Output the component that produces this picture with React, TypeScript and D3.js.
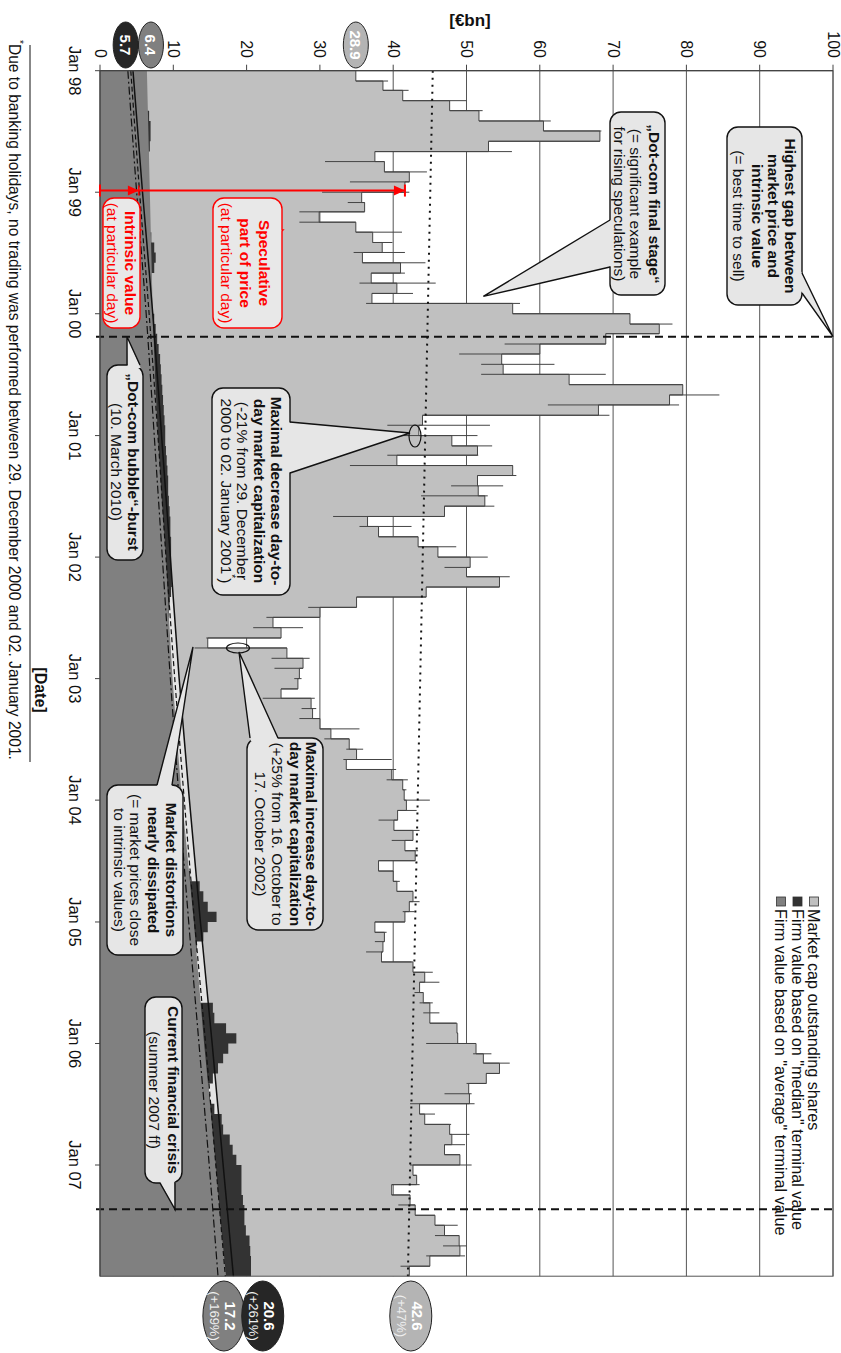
import React from 'react';
import * as d3 from 'd3';

const FONT = '"Liberation Sans", Arial, Helvetica, sans-serif';

// market cap of outstanding shares [€bn], one value per month, Jan 98 .. Nov 07
const capValues = [
  34.9, 38.6, 41.3, 47.7, 51.7, 60.5, 68.2, 53.0, 37.5, 38.8, 42.2, 41.6,
  35.7, 36.1, 29.9, 34.9, 37.2, 38.5, 35.8, 41.0, 37.0, 40.5, 37.1, 56.3,
  72.3, 76.3, 69.0, 60.0, 54.8, 55.0, 64.0, 79.5, 77.7, 68.0, 44.0, 43.5,
  48.0, 51.5, 40.5, 56.3, 51.5, 51.6, 52.5, 47.0, 36.5, 38.0, 43.4, 46.1,
  50.5, 50.0, 54.5, 44.5, 35.0, 30.0, 23.6, 24.7, 14.7, 25.5, 27.7, 27.2,
  27.0, 24.7, 28.8, 29.0, 30.0, 31.5, 34.0, 35.0, 33.6, 39.8, 41.3, 41.5,
  41.8, 40.6, 40.1, 42.7, 41.6, 43.0, 38.0, 40.0, 40.5, 42.7, 42.2, 41.6,
  37.5, 38.8, 38.6, 38.4, 42.7, 44.3, 43.6, 44.1, 45.0, 45.0, 48.7, 48.8,
  51.3, 52.3, 54.5, 52.7, 50.3, 50.4, 43.6, 44.3, 47.7, 48.0, 47.0, 49.1,
  42.7, 43.2, 39.8, 42.3, 43.0, 45.7, 47.0, 49.0, 49.1, 45.0, 42.2,
];

// daily extremes at the start of a month: [month index, low, high]
const capSpikes = [
  [1, 34.9, 39.3], [2, 38.6, 42.1], [3, 41.3, 50.0], [4, 47.7, 52.2], [5, 51.7, 61.5],
  [6, 60.5, 68.4], [7, 53.0, 68.2], [8, 37.5, 56.2], [9, 30.7, 38.8], [10, 38.8, 44.6],
  [11, 34.1, 42.2], [12, 30.3, 42.2], [13, 33.8, 36.1], [14, 27.2, 36.1], [15, 27.2, 34.9],
  [16, 34.9, 41.2], [17, 37.2, 39.9], [18, 34.6, 41.6], [19, 35.8, 44.4], [20, 37.0, 41.6],
  [21, 35.4, 45.8], [22, 37.1, 42.7], [23, 36.3, 57.3], [24, 56.3, 72.3], [25, 72.3, 78.1],
  [26, 69.0, 76.3], [27, 55.2, 69.0], [28, 49.0, 60.0], [29, 52.0, 62.0], [30, 52.0, 69.0],
  [31, 64.0, 79.5], [32, 77.7, 84.5], [33, 61.1, 79.0], [34, 44.0, 69.5], [35, 39.2, 53.2],
  [36, 31.5, 51.5], [37, 48.0, 53.5], [38, 39.2, 51.6], [39, 34.1, 56.3], [40, 51.5, 56.8],
  [41, 47.9, 55.0], [42, 43.8, 52.9], [43, 47.0, 53.8], [44, 31.8, 47.0], [45, 35.4, 42.5],
  [46, 38.0, 43.4], [47, 43.4, 48.6], [48, 46.1, 52.9], [49, 47.0, 50.5], [50, 50.0, 55.9],
  [51, 44.5, 54.5], [52, 35.0, 44.5], [53, 28.4, 35.0], [54, 22.7, 30.0], [55, 20.9, 27.7],
  [56, 14.5, 24.7], [57, 12.9, 25.5], [58, 23.4, 28.6], [59, 23.8, 27.7], [60, 26.5, 27.5],
  [61, 24.7, 27.0], [62, 22.2, 29.3], [63, 27.5, 29.5], [64, 27.2, 30.0], [65, 30.0, 35.4],
  [66, 30.6, 34.0], [67, 33.6, 35.9], [68, 33.2, 39.8], [69, 33.6, 40.4], [70, 39.1, 42.0],
  [71, 41.3, 41.8], [72, 41.5, 45.0], [73, 40.6, 43.2], [74, 38.0, 40.6], [75, 40.1, 43.6],
  [76, 39.8, 42.7], [77, 41.6, 43.4], [78, 38.0, 43.0], [79, 38.0, 40.0], [80, 40.0, 40.9],
  [81, 40.5, 42.7], [82, 42.2, 43.6], [83, 41.3, 42.9], [84, 37.5, 41.6], [85, 37.5, 39.1],
  [86, 37.5, 38.8], [87, 36.3, 38.6], [88, 38.4, 42.5], [89, 42.7, 45.4], [90, 43.6, 46.3],
  [91, 42.9, 44.1], [92, 43.6, 45.4], [93, 44.1, 46.3], [94, 45.0, 48.6], [95, 48.7, 48.8],
  [96, 44.5, 51.3], [97, 50.9, 53.4], [98, 52.3, 55.9], [99, 52.7, 54.5], [100, 50.0, 52.7],
  [101, 47.0, 50.7], [102, 42.3, 51.1], [103, 43.6, 45.7], [104, 44.3, 47.9], [105, 47.7, 50.4],
  [106, 47.0, 49.8], [107, 47.0, 49.1], [108, 42.3, 50.7], [109, 42.7, 43.2], [110, 39.8, 43.6],
  [111, 39.8, 42.3], [112, 40.7, 43.0], [113, 43.0, 45.7], [114, 45.7, 48.8], [115, 45.7, 49.0],
  [116, 46.8, 50.0], [117, 44.5, 49.8], [118, 41.0, 45.0],
];

// firm value, "median" terminal value [€bn], monthly
const medianValues = [
  5.7, 5.9, 6.1, 6.4, 6.7, 6.9, 6.9, 6.8, 6.6, 6.4, 6.3, 6.3,
  6.3, 6.4, 6.5, 6.7, 7.0, 7.4, 7.6, 7.4, 7.0, 6.9, 7.0, 7.1,
  7.4, 7.6, 7.8, 8.0, 8.2, 8.3, 8.4, 8.5, 8.6, 8.7, 8.8, 8.9,
  8.9, 9.0, 9.1, 9.2, 9.3, 9.3, 9.4, 9.5, 9.6, 9.6, 9.7, 9.7,
  9.7, 9.7, 9.8, 9.7, 9.5, 9.4, 9.3, 9.2, 9.2, 9.3, 9.4, 9.5,
  9.6, 9.7, 9.8, 9.9, 10.0, 10.1, 10.2, 10.3, 10.4, 10.6, 10.8, 11.0,
  10.9, 11.0, 11.2, 11.4, 11.6, 11.8, 12.0, 12.3, 13.6, 14.1, 14.7, 15.9,
  14.7, 14.1, 13.2, 12.8, 12.9, 13.0, 13.1, 13.3, 15.4, 15.6, 17.2, 18.6,
  17.5, 16.8, 16.1, 15.4, 14.8, 15.0, 15.6, 16.6, 16.8, 17.7, 18.1, 18.6,
  19.3, 19.3, 19.3, 19.5, 19.7, 19.7, 19.9, 20.4, 20.5, 20.6, 20.6,
];

// firm value, "average" terminal value [€bn]
const averageDates = [
  '1998-01', '1998-07', '1999-01', '1999-07', '2000-01', '2000-07', '2001-01',
  '2001-07', '2002-01', '2002-07', '2003-01', '2003-07', '2004-01', '2004-07',
  '2005-01', '2005-07', '2006-01', '2006-07', '2007-01', '2007-07', '2007-12',
];
const averageValues = [
  6.4, 6.6, 6.8, 7.0, 7.2, 7.5, 7.9, 8.4, 9.0, 9.4, 9.9,
  10.5, 11.2, 12.0, 12.8, 13.5, 14.2, 15.0, 15.8, 16.5, 17.2,
];

// trend lines
const trendDates = [
  '1998-01', '1999-01', '2000-01', '2001-01', '2002-01', '2003-01',
  '2004-01', '2005-01', '2006-01', '2007-01', '2007-12',
];
const trendSolid = [4.5, 5.8, 7.2, 8.4, 9.6, 10.8, 12.2, 13.7, 15.3, 16.8, 18.2];
const trendDashed = [4.2, 5.4, 6.7, 7.9, 9.0, 10.2, 11.5, 12.9, 14.4, 15.8, 17.1];
const trendDashDot = [3.8, 5.0, 6.3, 7.4, 8.5, 9.6, 10.8, 12.1, 13.5, 14.9, 16.1];
const capTrendDates = ['1998-01', '2007-12'];
const capTrendValues = [45.4, 42.0];

const valueTicks = [0, 10, 20, 30, 40, 50, 60, 70, 80, 90, 100];
const yearTicks = ['1998', '1999', '2000', '2001', '2002', '2003', '2004', '2005', '2006', '2007'];
const yearLabels = ['Jan 98', 'Jan 99', 'Jan 00', 'Jan 01', 'Jan 02', 'Jan 03', 'Jan 04', 'Jan 05', 'Jan 06', 'Jan 07'];

const legendLabels = [
  'Market cap outstanding shares',
  'Firm value based on "median" terminal value',
  'Firm value based on "average" terminal value',
];
const legendColors = ['#c0c0c0', '#333333', '#808080'];

const parseMonth = d3.timeParse('%Y-%m');
const parseDay = d3.timeParse('%Y-%m-%d');

type Line = { t: string; b?: boolean; y: number; sup?: string };

function Callout({ box, tail, lines, cx, stroke = '#111', color = '#111', fill = '#e6e6e6' }: any) {
  const [x0, y0, x1, y1] = box;
  const [b1, b2, tip] = tail;
  const mx = (b1[0] + b2[0]) / 2;
  const my = (b1[1] + b2[1]) / 2;
  const len = Math.hypot(mx - tip[0], my - tip[1]) || 1;
  const ix = ((mx - tip[0]) / len) * 3;
  const iy = ((my - tip[1]) / len) * 3;
  const fillPts = [[b1[0] + ix, b1[1] + iy], tip, [b2[0] + ix, b2[1] + iy]].map((p) => p.join(',')).join(' ');
  return (
    <g>
      <rect x={x0} y={y0} width={x1 - x0} height={y1 - y0} rx={11} fill={fill} stroke={stroke} strokeWidth={1.4} />
      <polygon points={fillPts} fill={fill} />
      <path d={`M${b1[0]},${b1[1]}L${tip[0]},${tip[1]}L${b2[0]},${b2[1]}`} fill="none" stroke={stroke} strokeWidth={1.4} strokeLinejoin="miter" />
      {lines.map((l: Line, i: number) => (
        <text key={i} x={cx} y={l.y} textAnchor="middle" dominantBaseline="central" fontSize={15.5}
          fontWeight={l.b ? 'bold' : 'normal'} fill={color}>
          {l.t}
          {l.sup ? <tspan fontSize={10} dy={-6}>{l.sup}</tspan> : null}
          {l.sup ? <tspan dy={6}>)</tspan> : null}
        </text>
      ))}
    </g>
  );
}

export default function App() {
  // landscape frame (drawn 1353 x 841, then turned 90° clockwise)
  const x = d3.scaleTime().domain([new Date(1998, 0, 1), new Date(2007, 11, 1)]).range([70.7, 1276.2]);
  const y = d3.scaleLinear().domain([0, 100]).range([741, 8]);
  const end = new Date(2007, 11, 1);
  const monthDate = (k: number) => new Date(1998, k, 1);

  type P = { d: Date; v: number };
  const capPts: P[] = capValues.map((v, k) => ({ d: monthDate(k), v }));
  capPts.push({ d: end, v: capValues[capValues.length - 1] });
  const medPts: P[] = medianValues.map((v, k) => ({ d: monthDate(k), v }));
  medPts.push({ d: end, v: medianValues[medianValues.length - 1] });
  const avgPts: P[] = averageDates.map((s, i) => ({ d: parseMonth(s)!, v: averageValues[i] }));
  const tr = (vals: number[]): P[] => trendDates.map((s, i) => ({ d: parseMonth(s)!, v: vals[i] }));

  const stepArea = d3.area<P>().curve(d3.curveStepAfter).x((p) => x(p.d)).y0(y(0)).y1((p) => y(p.v));
  const stepLine = d3.line<P>().curve(d3.curveStepAfter).x((p) => x(p.d)).y((p) => y(p.v));
  const linArea = d3.area<P>().curve(d3.curveLinear).x((p) => x(p.d)).y0(y(0)).y1((p) => y(p.v));
  const smooth = d3.line<P>().curve(d3.curveMonotoneX).x((p) => x(p.d)).y((p) => y(p.v));
  const smoothArea = d3.area<P>().curve(d3.curveMonotoneX).x((p) => x(p.d)).y0(y(0)).y1((p) => y(p.v));

  const capTrend: P[] = capTrendDates.map((s, i) => ({ d: parseMonth(s)!, v: capTrendValues[i] }));

  const burst = parseDay('2000-03-10')!;
  const crisis = parseDay('2007-05-14')!;
  const arrowDay = parseDay('1998-12-27')!;
  const ax = x(arrowDay);

  const X0 = x.range()[0];
  const X1 = x.range()[1];
  const Y0 = y(0);
  const Y1 = y(100);
  const legendY = [27, 43.5, 60];

  const badge = (cxL: number, cyL: number, rx: number, ry: number, fill: string, main: string, sub?: string) => (
    <g>
      <ellipse cx={cxL} cy={cyL} rx={rx} ry={ry} fill={fill} stroke="#222" strokeWidth={1} />
      {sub ? (
        <>
          <text x={cxL} y={cyL - 7} textAnchor="middle" dominantBaseline="central" fontSize={15} fontWeight="bold" fill="#fff">{main}</text>
          <text x={cxL} y={cyL + 9} textAnchor="middle" dominantBaseline="central" fontSize={13} fill="#eee">{sub}</text>
        </>
      ) : (
        <text x={cxL} y={cyL} textAnchor="middle" dominantBaseline="central" fontSize={15} fontWeight="bold" fill="#fff">{main}</text>
      )}
    </g>
  );

  return (
    <svg width={841} height={1353} style={{ position: 'absolute', left: 0, top: 0, background: '#fff' }} fontFamily={FONT}>
      <g transform="translate(841,0) rotate(90)">
        {/* grid */}
        {valueTicks.slice(1).map((v) => (
          <line key={v} x1={X0} x2={X1} y1={y(v)} y2={y(v)} stroke="#555" strokeWidth={1} />
        ))}

        {/* market cap */}
        <path d={stepArea(capPts)!} fill="#c0c0c0" />
        {/* trend band */}
        <path d={smoothArea(tr(trendSolid))!} fill="#e4e4e4" />
        {/* median firm value */}
        <path d={stepArea(medPts)!} fill="#333333" />
        {/* average firm value */}
        <path d={linArea(avgPts)!} fill="#808080" />

        <path d={stepLine(capPts)!} fill="none" stroke="#444" strokeWidth={1} />
        {capSpikes.map(([k, lo, hi]) => (
          <line key={k} x1={x(monthDate(k))} x2={x(monthDate(k))} y1={y(lo)} y2={y(hi)} stroke="#444" strokeWidth={1} />
        ))}

        {/* trend lines */}
        <path d={smooth(tr(trendDashDot))!} fill="none" stroke="#111" strokeWidth={1.2} strokeDasharray="8,3,2,3" />
        <path d={smooth(tr(trendDashed))!} fill="none" stroke="#111" strokeWidth={1.2} strokeDasharray="5,3" />
        <path d={smooth(tr(trendSolid))!} fill="none" stroke="#111" strokeWidth={1.5} />
        <path d={smooth(capTrend)!} fill="none" stroke="#111" strokeWidth={2} strokeDasharray="2,5" />

        {/* event markers */}
        <line x1={x(burst)} x2={x(burst)} y1={Y0 + 4} y2={Y1} stroke="#111" strokeWidth={2} strokeDasharray="8,5" />
        <line x1={x(crisis)} x2={x(crisis)} y1={Y0 + 4} y2={Y1} stroke="#111" strokeWidth={2} strokeDasharray="8,5" />

        {/* frame and axes */}
        <rect x={X0} y={Y1} width={X1 - X0} height={Y0 - Y1} fill="none" stroke="#555" strokeWidth={1} />
        <line x1={X0} x2={X1} y1={Y0} y2={Y0} stroke="#444" strokeWidth={1.2} />
        <line x1={X0} x2={X0} y1={Y0} y2={Y1} stroke="#444" strokeWidth={1.2} />
        {valueTicks.map((v) => (
          <g key={v}>
            <line x1={X0 - 6} x2={X0} y1={y(v)} y2={y(v)} stroke="#444" />
            <text x={58} y={y(v)} textAnchor="end" dominantBaseline="central" fontSize={16} fill="#111">{v}</text>
          </g>
        ))}
        {yearTicks.map((s, i) => {
          const d = d3.timeParse('%Y')(s)!;
          return (
            <g key={s}>
              <line x1={x(d)} x2={x(d)} y1={Y0} y2={Y0 + 5} stroke="#444" />
              <text x={x(d)} y={766} textAnchor="middle" dominantBaseline="central" fontSize={16.5} fill="#111">{yearLabels[i]}</text>
            </g>
          );
        })}
        <text x={690} y={801} textAnchor="middle" dominantBaseline="central" fontSize={16} fontWeight="bold" fill="#111">[Date]</text>
        <text transform="translate(20,371) rotate(-90)" textAnchor="middle" dominantBaseline="central" fontSize={17} fontWeight="bold" fill="#111">[€bn]</text>

        {/* footnote */}
        <line x1={45} x2={762} y1={811} y2={811} stroke="#111" strokeWidth={1} />
        <text x={40} y={826} dominantBaseline="central" fontSize={15.6} fill="#111">
          <tspan fontSize={10} dy={-5}>*</tspan>
          <tspan dy={5}>Due to banking holidays, no trading was performed between 29. December 2000 and 02. January 2001.</tspan>
        </text>

        {/* legend */}
        {legendLabels.map((l, i) => (
          <g key={l}>
            <rect x={897} y={legendY[i] - 4.5} width={9} height={9} fill={legendColors[i]} stroke="#333" strokeWidth={0.8} />
            <text x={909} y={legendY[i]} dominantBaseline="central" fontSize={16.2} fill="#111">{l}</text>
          </g>
        ))}

        {/* red speculative / intrinsic markers */}
        <g stroke="#ff0000" fill="#ff0000">
          <line x1={ax} x2={ax} y1={y(0)} y2={y(41.6)} strokeWidth={2} />
          <line x1={ax - 6} x2={ax + 6} y1={y(0)} y2={y(0)} strokeWidth={2} />
          <line x1={ax - 6} x2={ax + 6} y1={y(41.6)} y2={y(41.6)} strokeWidth={2} />
          <line x1={ax - 5} x2={ax + 5} y1={y(5.3)} y2={y(5.3)} strokeWidth={1.5} />
          <polygon points={`${ax},${y(5.3)} ${ax - 5},${y(5.3) + 11} ${ax + 5},${y(5.3) + 11}`} stroke="none" />
          <polygon points={`${ax},${y(41.6)} ${ax - 5},${y(41.6) + 11} ${ax + 5},${y(41.6) + 11}`} stroke="none" />
        </g>

        {/* ellipses marking extreme days */}
        <ellipse cx={436} cy={426} rx={11} ry={6} fill="none" stroke="#111" strokeWidth={1.2} />
        <ellipse cx={648} cy={603} rx={5} ry={11.5} fill="none" stroke="#111" strokeWidth={1.2} />

        {/* callouts */}
        <Callout box={[127, 39, 305, 114]} tail={[[273, 39], [293, 39], [x(burst), Y1]]} cx={216}
          lines={[
            { t: 'Highest gap between', b: true, y: 51 },
            { t: 'market price and', b: true, y: 68 },
            { t: 'intrinsic value', b: true, y: 84 },
            { t: '(= best time to sell)', y: 103 },
          ]} />
        <Callout box={[112, 176, 295, 231]} tail={[[220, 231], [267, 231], [x(parseDay('1999-11-10')!), y(52.3)]]} cx={204}
          lines={[
            { t: '„Dot-com final stage“', b: true, y: 187 },
            { t: '(= significant example', y: 206 },
            { t: 'for rising speculations)', y: 222 },
          ]} />
        <Callout box={[198, 559, 328, 628]} tail={[[230, 559], [231, 559], [230, 558]]} cx={263} stroke="#ff0000" color="#ff0000" fill="#e8e8e8"
          lines={[
            { t: 'Speculative', b: true, y: 577 },
            { t: 'part of price', b: true, y: 596 },
            { t: '(at particular day)', y: 615 },
          ]} />
        <Callout box={[198, 701, 328, 738]} tail={[[230, 701], [231, 701], [230, 700]]} cx={263} stroke="#ff0000" color="#ff0000" fill="#e8e8e8"
          lines={[
            { t: 'Intrinsic value', b: true, y: 711 },
            { t: '(at particular day)', y: 729 },
          ]} />
        <Callout box={[365, 698, 560, 734]} tail={[[365, 701], [365, 714], [x(burst), 714]]} cx={462}
          lines={[
            { t: '„Dot-com bubble“-burst', b: true, y: 708 },
            { t: '(10. March 2010)', y: 725 },
          ]} />
        <Callout box={[388, 551, 595, 629]} tail={[[422, 551], [473, 551], [433, 431]]} cx={491}
          lines={[
            { t: 'Maximal decrease day-to-', b: true, y: 565 },
            { t: 'day market capitalization', b: true, y: 582 },
            { t: '(-21% from 29. December', y: 599 },
            { t: '2000 to 02. January 2001', y: 615, sup: '*' },
          ]} />
        <Callout box={[738, 518, 930, 594]} tail={[[738, 563], [738, 591], [652, 602]]} cx={834}
          lines={[
            { t: 'Maximal increase day-to-', b: true, y: 530 },
            { t: 'day market capitalization', b: true, y: 546 },
            { t: '(+25% from 16. October to', y: 564 },
            { t: '17. October 2002)', y: 581 },
          ]} />
        <Callout box={[785, 658, 955, 734]} tail={[[785, 669], [785, 684], [647, 648]]} cx={870}
          lines={[
            { t: 'Market distortions', b: true, y: 670 },
            { t: 'nearly dissipated', b: true, y: 688 },
            { t: '(= market prices close', y: 706 },
            { t: 'to intrinsic values)', y: 722 },
          ]} />
        <Callout box={[997, 659, 1183, 696]} tail={[[1183, 666], [1183, 681], [x(crisis), 666]]} cx={1090}
          lines={[
            { t: 'Current financial crisis', b: true, y: 668 },
            { t: '(summer 2007 ff)', y: 687 },
          ]} />

        {/* start and end value badges */}
        {badge(45, y(3.5), 23, 12.5, '#262626', '5.7')}
        {badge(45, y(6.95), 23, 12.5, '#808080', '6.4')}
        {badge(45, y(capValues[0]), 23, 12.5, '#b4b4b4', '28.9')}
        {badge(1316, y(16.9), 35, 21, '#808080', '17.2', '(+169%)')}
        {badge(1316, y(22.2), 35, 21, '#262626', '20.6', '(+261%)')}
        {badge(1316, y(42.4), 35, 21, '#b4b4b4', '42.6', '(+47%)')}
      </g>
    </svg>
  );
}
